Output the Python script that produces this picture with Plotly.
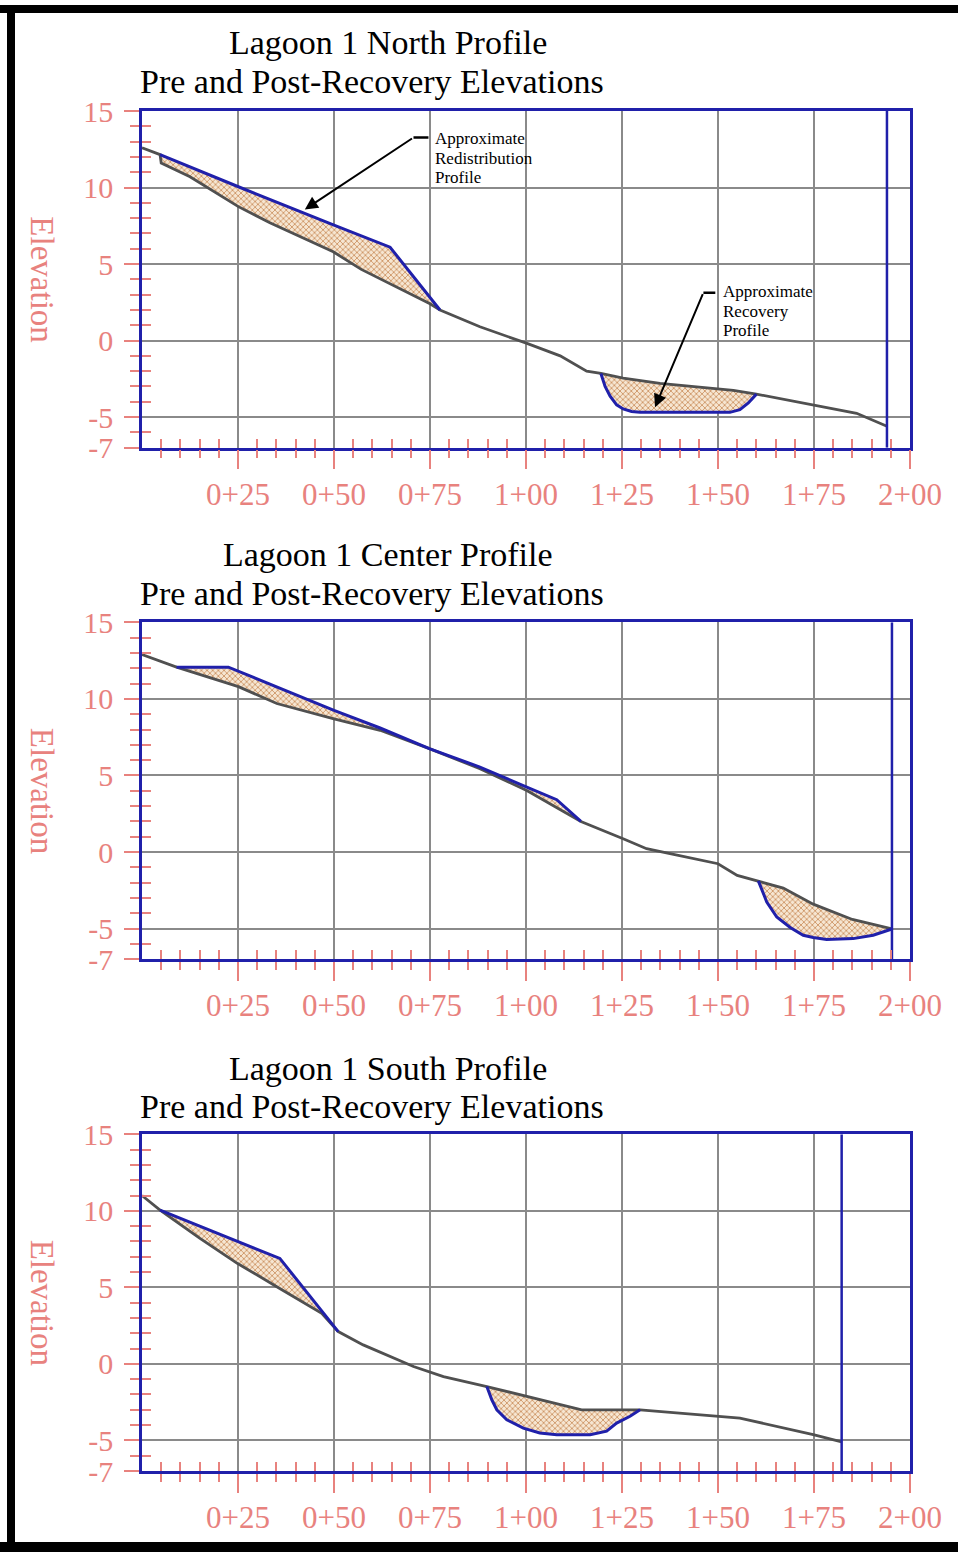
import plotly.graph_objects as go

# ---------------- profile data: station (ft) and elevation (ft) ----------------
# Lagoon 1 North
north_pre_sta = [0, 4.7, 5.0, 12.5, 25.1, 33.3, 49.8, 57.1, 75.0, 77.6, 88.0, 99.9,
                 108.9, 115.8, 119.5, 125.3, 134.9, 150.1, 154.0, 160.0, 174.8, 186.1, 194.0]
north_pre_elev = [12.6, 12.15, 11.6, 10.7, 8.75, 7.7, 5.8, 4.65, 2.4, 2.0, 0.9, -0.15,
                  -1.0, -2.0, -2.15, -2.45, -2.8, -3.15, -3.25, -3.5, -4.2, -4.75, -5.6]
north_redist_sta = [4.7, 25.1, 50.0, 64.6, 77.6]
north_redist_elev = [12.15, 10.05, 7.55, 6.1, 2.0]
north_recov_sta = [119.5, 120.6, 121.9, 123.6, 125.3, 127.5, 129.7, 153.1, 155.7, 157.9, 160.0]
north_recov_elev = [-2.15, -3.0, -3.64, -4.2, -4.47, -4.63, -4.69, -4.69, -4.52, -4.08, -3.5]

# Lagoon 1 Center
center_pre_sta = [0, 9.0, 25.1, 35.1, 50.0, 62.0, 75.0, 88.0, 100.2, 114.3, 125.3, 131.4,
                  137.5, 150.0, 155.0, 160.5, 167.0, 174.8, 185.0, 195.3]
center_pre_elev = [12.9, 12.07, 10.8, 9.7, 8.7, 7.95, 6.74, 5.44, 4.02, 2.0, 0.87, 0.22,
                   -0.1, -0.76, -1.52, -1.88, -2.35, -3.4, -4.4, -5.02]
center_redist_sta = [9.0, 22.5, 50.0, 62.0, 75.0, 88.0, 100.2, 108.0, 114.3]
center_redist_elev = [12.07, 12.07, 9.25, 8.1, 6.74, 5.55, 4.24, 3.42, 2.0]
center_recov_sta = [160.5, 162.7, 165.3, 168.8, 172.2, 174.8, 178.3, 185.2, 190.4, 195.3]
center_recov_elev = [-1.88, -3.26, -4.24, -4.92, -5.43, -5.58, -5.7, -5.65, -5.43, -5.02]

# Lagoon 1 South
south_pre_sta = [0, 4.7, 15.1, 24.8, 35.1, 46.8, 51.1, 57.6, 70.7, 78.5, 89.8, 99.9,
                 114.5, 129.7, 150.1, 155.7, 174.8, 182.2]
south_pre_elev = [11.0, 10.04, 8.2, 6.57, 5.04, 3.3, 2.11, 1.24, -0.17, -0.83, -1.48, -2.1,
                  -3.0, -3.0, -3.39, -3.54, -4.63, -5.1]
south_redist_sta = [4.7, 24.8, 35.9, 51.1]
south_redist_elev = [10.04, 8.04, 6.89, 2.11]
south_recov_sta = [89.8, 91.1, 92.4, 95.0, 99.3, 103.6, 108.0, 116.7, 121.0, 123.6, 127.1, 129.7]
south_recov_elev = [-1.48, -2.35, -3.0, -3.65, -4.2, -4.52, -4.63, -4.63, -4.4, -3.87, -3.42, -3.0]

# ---------------- axis ticks ----------------
x_tick_vals = [25, 50, 75, 100, 125, 150, 175, 200]
x_tick_text = ["0+25", "0+50", "0+75", "1+00", "1+25", "1+50", "1+75", "2+00"]
x_minor_vals = [5, 10, 15, 20, 30, 35, 40, 45, 55, 60, 65, 70, 80, 85, 90, 95,
                105, 110, 115, 120, 130, 135, 140, 145, 155, 160, 165, 170,
                180, 185, 190, 195]
y_tick_vals = [15, 10, 5, 0, -5, -7]
y_tick_text = ["15", "10", "5", "0", "-5", "-7"]
y_minor_vals = [14, 13, 12, 11, 9, 8, 7, 6, 4, 3, 2, 1, -1, -2, -3, -4, -6]

panels = [
    dict(title="Lagoon 1 North Profile",
         pre=(north_pre_sta, north_pre_elev),
         cuts=[(north_redist_sta, north_redist_elev), (north_recov_sta, north_recov_elev)]),
    dict(title="Lagoon 1 Center Profile",
         pre=(center_pre_sta, center_pre_elev),
         cuts=[(center_redist_sta, center_redist_elev), (center_recov_sta, center_recov_elev)]),
    dict(title="Lagoon 1 South Profile",
         pre=(south_pre_sta, south_pre_elev),
         cuts=[(south_redist_sta, south_redist_elev), (south_recov_sta, south_recov_elev)]),
]

# ---------------- page layout (pixels) ----------------
W, H = 958, 1552
PLOT_X = (142, 910)
PLOT_Y = [(111, 447.7), (622.3, 959.3), (1134.3, 1471)]
TITLE_Y = [(42, 81), (554, 593), (1068, 1106)]

SERIF = "Liberation Serif"
PINK = "#e8827e"
BLUE = "#2020aa"
GRID = "#8a8a8a"
PRE = "#505050"


def px(xp):
    return xp / W


def py(yp):
    return 1 - yp / H


def fill_polygon(pre_s, pre_e, cut_s, cut_e):
    s0, s1 = cut_s[0], cut_s[-1]
    back = [(s, e) for s, e in zip(pre_s, pre_e) if s0 <= s <= s1][::-1]
    return list(cut_s) + [b[0] for b in back], list(cut_e) + [b[1] for b in back]


fig = go.Figure()
layout = dict(width=W, height=H, margin=dict(l=0, r=0, t=0, b=0, pad=0, autoexpand=False),
              autosize=False, template="none",
              paper_bgcolor="white", plot_bgcolor="white", showlegend=False)
annotations = []
shapes = []

for i, p in enumerate(panels):
    n = i + 1
    xa = "x" if n == 1 else f"x{n}"
    ya = "y" if n == 1 else f"y{n}"
    xo, yo = f"x{n + 3}", f"y{n + 3}"
    top, bot = PLOT_Y[i]
    pre_s, pre_e = p["pre"]

    for cs, ce in p["cuts"]:
        fx, fy = fill_polygon(pre_s, pre_e, cs, ce)
        fig.add_trace(go.Scatter(x=fx, y=fy, xaxis=xa, yaxis=ya, mode="lines",
                                 fill="toself", line=dict(width=0),
                                 fillcolor="#f3dfc6",
                                 fillpattern=dict(shape="x", fgcolor="#c88a55",
                                                  bgcolor="#f6e6d2", size=4, solidity=0.35),
                                 hoverinfo="skip"))
    fig.add_trace(go.Scatter(x=pre_s, y=pre_e, xaxis=xa, yaxis=ya, mode="lines",
                             line=dict(color=PRE, width=2.8)))
    for cs, ce in p["cuts"]:
        fig.add_trace(go.Scatter(x=cs, y=ce, xaxis=xa, yaxis=ya, mode="lines",
                                 line=dict(color=BLUE, width=3)))
    # end-of-profile marker line
    end_sta = pre_s[-1]
    fig.add_trace(go.Scatter(x=[end_sta, end_sta], y=[y_tick_vals[-1], y_tick_vals[0]],
                             xaxis=xa, yaxis=ya, mode="lines",
                             line=dict(color=BLUE, width=2.5)))
    # empty trace that carries the inner tick axes
    fig.add_trace(go.Scatter(x=[], y=[], xaxis=xo, yaxis=yo))

    dom_x = [px(PLOT_X[0]), px(PLOT_X[1])]
    dom_y = [py(bot), py(top)]
    layout["xaxis" if n == 1 else f"xaxis{n}"] = dict(
        domain=dom_x, range=[0, 200], anchor=ya, fixedrange=True, automargin=False,
        tickmode="array", tickvals=x_tick_vals, ticktext=x_tick_text,
        ticks="outside", ticklen=19, tickwidth=2, tickcolor=PINK,
        ticklabelstandoff=-2,
        tickfont=dict(family=SERIF, size=31, color=PINK),
        showgrid=True, gridcolor=GRID, gridwidth=2, zeroline=False,
        showline=True, linecolor=BLUE, linewidth=2.5, mirror=True,
        minor=dict(tickmode="array", tickvals=x_minor_vals, ticks="outside",
                   ticklen=8, tickwidth=2, tickcolor=PINK, showgrid=False))
    layout["yaxis" if n == 1 else f"yaxis{n}"] = dict(
        domain=dom_y, range=[-7, 15], anchor=xa, fixedrange=True, automargin=False,
        tickmode="array", tickvals=y_tick_vals, ticktext=y_tick_text,
        ticks="outside", ticklen=15, tickwidth=2, tickcolor=PINK,
        ticklabelstandoff=5,
        tickfont=dict(family=SERIF, size=30, color=PINK),
        showgrid=True, gridcolor=GRID, gridwidth=2, zeroline=False,
        showline=True, linecolor=BLUE, linewidth=2.5, mirror=True,
        minor=dict(tickmode="array", tickvals=y_minor_vals, ticks="outside",
                   ticklen=9, tickwidth=2, tickcolor=PINK, showgrid=False))
    # inner halves of the minor ticks
    layout[f"xaxis{n + 3}"] = dict(
        overlaying=xa, anchor=ya, side="bottom", range=[0, 200], fixedrange=True,
        automargin=False,
        tickmode="array", tickvals=x_minor_vals, ticks="inside", ticklen=9,
        tickwidth=2, tickcolor=PINK, showticklabels=False, showgrid=False,
        showline=False, zeroline=False)
    layout[f"yaxis{n + 3}"] = dict(
        overlaying=ya, anchor=xa, side="left", range=[-7, 15], fixedrange=True,
        automargin=False,
        tickmode="array", tickvals=y_minor_vals, ticks="inside", ticklen=9,
        tickwidth=2, tickcolor=PINK, showticklabels=False, showgrid=False,
        showline=False, zeroline=False)

    t1, t2 = TITLE_Y[i]
    annotations.append(dict(text=p["title"], xref="paper", yref="paper",
                            x=px(388), y=py(t1), xanchor="center", yanchor="middle",
                            showarrow=False, font=dict(family=SERIF, size=34, color="black")))
    annotations.append(dict(text="Pre and Post-Recovery Elevations", xref="paper", yref="paper",
                            x=px(372), y=py(t2), xanchor="center", yanchor="middle",
                            showarrow=False, font=dict(family=SERIF, size=34, color="black")))
    annotations.append(dict(text="Elevation", xref="paper", yref=f"{ya} domain",
                            x=px(42), y=0.5, xanchor="center", yanchor="middle",
                            textangle=90, showarrow=False,
                            font=dict(family=SERIF, size=33, color=PINK)))

# callouts on the North profile
LINE_STEP = 1.28  # elevation units between callout text lines
callouts = [
    dict(lines=["Approximate", "Redistribution", "Profile"], head=(42.4, 8.57),
         tail=(70.7, 13.27), elbow=74.6, text_at=(75.8, 13.2)),
    dict(lines=["Approximate", "Recovery", "Profile"], head=(133.6, -4.35),
         tail=(146.2, 3.13), elbow=149.3, text_at=(150.8, 3.2)),
]
for c in callouts:
    annotations.append(dict(text="", x=c["head"][0], y=c["head"][1], xref="x", yref="y",
                            ax=c["tail"][0], ay=c["tail"][1], axref="x", ayref="y",
                            showarrow=True, arrowhead=2, arrowsize=1.3, arrowwidth=2,
                            arrowcolor="black", standoff=0))
    shapes.append(dict(type="line", xref="x", yref="y", x0=c["tail"][0], y0=c["tail"][1],
                       x1=c["elbow"], y1=c["tail"][1], line=dict(color="black", width=2.5)))
    for k, line in enumerate(c["lines"]):
        annotations.append(dict(text=line, x=c["text_at"][0],
                                y=c["text_at"][1] - k * LINE_STEP,
                                xref="x", yref="y", xanchor="left", yanchor="middle",
                                showarrow=False,
                                font=dict(family=SERIF, size=17, color="black")))

# black page frame
shapes += [
    dict(type="rect", xref="paper", yref="paper", x0=0, x1=1, y0=py(13), y1=py(5),
         fillcolor="black", line=dict(width=0)),
    dict(type="rect", xref="paper", yref="paper", x0=px(7), x1=px(15), y0=0, y1=py(5),
         fillcolor="black", line=dict(width=0)),
    dict(type="rect", xref="paper", yref="paper", x0=0, x1=1, y0=0, y1=py(1542),
         fillcolor="black", line=dict(width=0)),
]

layout["annotations"] = annotations
layout["shapes"] = shapes
fig.update_layout(**layout)
fig.write_html("out.html")
